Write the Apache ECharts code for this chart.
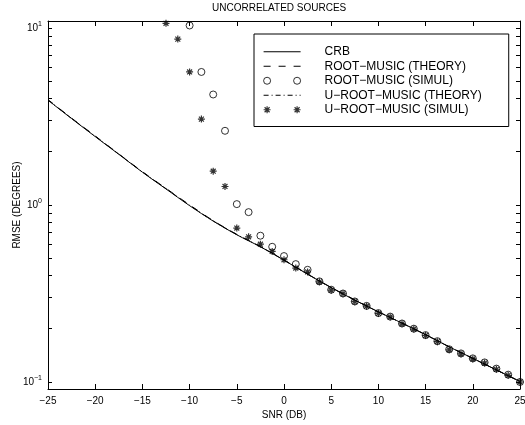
<!DOCTYPE html>
<html>
<head>
<meta charset="utf-8">
<script src="https://cdn.jsdelivr.net/npm/echarts@6/dist/echarts.min.js"></script>
<style>html,body{margin:0;padding:0;background:#fff}#c{width:525px;height:425px}</style>
</head>
<body>
<div id="c"></div>
<script>
// ---- data ----
const titleText = 'UNCORRELATED SOURCES';
const xName = 'SNR (DB)';
const yName = 'RMSE (DEGREES)';
const seriesNames = ['CRB', 'ROOT\u2212MUSIC (THEORY)', 'ROOT\u2212MUSIC (SIMUL)', 'U\u2212ROOT\u2212MUSIC (THEORY)', 'U\u2212ROOT\u2212MUSIC (SIMUL)'];

const snrLine = [-25, -22.5, -20, -17.5, -15, -12.5, -10, -7.5, -5, -2.5, 0, 2.5, 5, 7.5, 10, 12.5, 15, 17.5, 20, 22.5, 25];
const crb        = [3.90, 3.07, 2.43, 1.93, 1.53, 1.23, 0.99, 0.81, 0.678, 0.580, 0.487, 0.406, 0.341, 0.290, 0.249, 0.215, 0.185, 0.158, 0.136, 0.117, 0.1007];
const rootTheory = [3.93, 3.09, 2.45, 1.94, 1.54, 1.24, 1.00, 0.815, 0.682, 0.583, 0.489, 0.407, 0.342, 0.291, 0.249, 0.215, 0.185, 0.158, 0.136, 0.117, 0.1007];
const uRootTheory= [3.91, 3.08, 2.44, 1.935, 1.535, 1.235, 0.995, 0.812, 0.680, 0.581, 0.488, 0.406, 0.341, 0.290, 0.249, 0.215, 0.185, 0.158, 0.136, 0.117, 0.1007];

const snrRootSim = [-10, -8.75, -7.5, -6.25, -5, -3.75, -2.5, -1.25, 0, 1.25, 2.5, 3.75, 5, 6.25, 7.5, 8.75, 10, 11.25, 12.5, 13.75, 15, 16.25, 17.5, 18.75, 20, 21.25, 22.5, 23.75, 25];
const rootSim    = [10.3, 5.63, 4.2, 2.62, 1.01, 0.91, 0.67, 0.58, 0.514, 0.463, 0.43, 0.37, 0.332, 0.316, 0.285, 0.269, 0.245, 0.234, 0.214, 0.200, 0.184, 0.170, 0.153, 0.145, 0.136, 0.129, 0.119, 0.110, 0.100];

const snrURootSim = [-12.5, -11.25, -10, -8.75, -7.5, -6.25, -5, -3.75, -2.5, -1.25, 0, 1.25, 2.5, 3.75, 5, 6.25, 7.5, 8.75, 10, 11.25, 12.5, 13.75, 15, 16.25, 17.5, 18.75, 20, 21.25, 22.5, 23.75, 25];
const uRootSim    = [10.6, 8.63, 5.63, 3.05, 1.55, 1.27, 0.74, 0.66, 0.60, 0.546, 0.49, 0.44, 0.418, 0.368, 0.330, 0.315, 0.284, 0.268, 0.244, 0.233, 0.213, 0.199, 0.183, 0.169, 0.152, 0.144, 0.135, 0.128, 0.118, 0.109, 0.100];

const xTicks = [-25, -20, -15, -10, -5, 0, 5, 10, 15, 20, 25];
const yLabelTicks = [0.1, 1, 10];
const yMinorTicks = [0.1, 0.2, 0.3, 0.4, 0.5, 0.6, 0.7, 0.8, 0.9, 1, 2, 3, 4, 5, 6, 7, 8, 9, 10];

// ---- chart ----
const FONT = 'Liberation Sans, Arial, Helvetica, sans-serif';
const pairs = (xs, ys) => xs.map((x, i) => [x, ys[i]]);
const starPath = 'path://M4,0L4,8M0,4L8,4M1.2,1.2L6.8,6.8M1.2,6.8L6.8,1.2';
const starPairIcon = 'path://M3.5,0L3.5,7M0,3.5L7,3.5M1,1L6,6M1,6L6,1M33.5,0L33.5,7M30,3.5L37,3.5M31,1L36,6M31,6L36,1';
const circlePairIcon = 'path://M0,3.5A3.5,3.5,0,1,0,7,3.5A3.5,3.5,0,1,0,0,3.5ZM30,3.5A3.5,3.5,0,1,0,37,3.5A3.5,3.5,0,1,0,30,3.5Z';
const minus = v => (v < 0 ? '\u2212' + Math.abs(v) : String(v));
const supFmt = v => {
  const e = Math.round(Math.log10(v));
  return '{b|10}{s|' + minus(e) + '}';
};

const yAxisBase = {
  type: 'log', logBase: 10, min: 0.0913, max: 10.92,
  axisLine: { show: true, onZero: false, lineStyle: { color: '#000', width: 1 } },
  axisTick: { show: true, inside: true, length: 4, customValues: yMinorTicks, lineStyle: { color: '#000', width: 1 } },
  splitLine: { show: false }, minorTick: { show: false }
};
const xAxisBase = {
  type: 'value', min: -25, max: 25, interval: 5,
  axisLine: { show: true, onZero: false, lineStyle: { color: '#000', width: 1 } },
  axisTick: { show: true, inside: true, length: 5, customValues: xTicks, lineStyle: { color: '#000', width: 1 } },
  splitLine: { show: false }
};

const chart = echarts.init(document.getElementById('c'), null, { renderer: 'canvas' });
chart.setOption({
  animation: false,
  backgroundColor: '#fff',
  title: {
    text: titleText, left: 212, top: 3, padding: 0,
    textStyle: { fontFamily: FONT, fontSize: 10, fontWeight: 'normal', color: '#000' }
  },
  grid: { left: 48, right: 5, top: 21, bottom: 36, containLabel: false, outerBoundsMode: 'none' },
  xAxis: [
    Object.assign({}, xAxisBase, {
      position: 'bottom',
      axisLabel: { customValues: xTicks, formatter: minus, fontFamily: FONT, fontSize: 10, color: '#000', margin: 7 },
      name: xName, nameLocation: 'middle', nameGap: 21, nameMoveOverlap: false,
      nameTextStyle: { fontFamily: FONT, fontSize: 10, color: '#000' }
    }),
    Object.assign({}, xAxisBase, { position: 'top', axisLabel: { show: false } })
  ],
  yAxis: [
    Object.assign({}, yAxisBase, {
      position: 'left',
      axisLabel: {
        customValues: yLabelTicks, formatter: supFmt, margin: 6, color: '#000',
        rich: {
          b: { fontFamily: FONT, fontSize: 10, color: '#000' },
          s: { fontFamily: FONT, fontSize: 7, color: '#000', padding: [0, 0, 7, 0] }
        }
      },
      name: yName, nameLocation: 'middle', nameGap: 26, nameMoveOverlap: false,
      nameTextStyle: { fontFamily: FONT, fontSize: 10, color: '#000' }
    }),
    Object.assign({}, yAxisBase, { position: 'right', axisLabel: { show: false } })
  ],
  legend: {
    orient: 'vertical', left: 254, top: 34,
    backgroundColor: '#fff', borderColor: '#000', borderWidth: 1, borderRadius: 0,
    padding: [11, 27, 10, 9],
    itemWidth: 37, itemHeight: 7, itemGap: 1,
    selectedMode: false,
    lineStyle: { width: 1 },
    textStyle: { fontFamily: FONT, fontSize: 12, color: '#000', lineHeight: 13.5, padding: [0, 0, 0, 19] },
    data: [
      { name: seriesNames[0], itemStyle: { opacity: 0 } },
      { name: seriesNames[1], itemStyle: { opacity: 0 } },
      { name: seriesNames[2], icon: circlePairIcon, itemStyle: { color: 'rgba(0,0,0,0)', borderColor: '#000', borderWidth: 1 } },
      { name: seriesNames[3], itemStyle: { opacity: 0 } },
      { name: seriesNames[4], icon: starPairIcon, itemStyle: { color: 'rgba(0,0,0,0)', borderColor: '#000', borderWidth: 1.2 } }
    ]
  },
  series: [
    { name: seriesNames[0], type: 'line', data: pairs(snrLine, crb), symbol: 'none', smooth: 0.3,
      lineStyle: { color: '#000', width: 1, type: 'solid' }, itemStyle: { color: '#000' } },
    { name: seriesNames[1], type: 'line', data: pairs(snrLine, rootTheory), symbol: 'none', smooth: 0.3,
      lineStyle: { color: '#000', width: 1, type: [7, 8] }, itemStyle: { color: '#000' } },
    { name: seriesNames[3], type: 'line', data: pairs(snrLine, uRootTheory), symbol: 'none', smooth: 0.3,
      lineStyle: { color: '#000', width: 1, type: [5, 3, 1, 3] }, itemStyle: { color: '#000' } },
    { name: seriesNames[2], type: 'scatter', data: pairs(snrRootSim, rootSim), symbol: 'circle', symbolSize: 7,
      itemStyle: { color: 'rgba(0,0,0,0)', borderColor: '#000', borderWidth: 1 } },
    { name: seriesNames[4], type: 'scatter', data: pairs(snrURootSim, uRootSim), symbol: starPath, symbolSize: 7,
      itemStyle: { color: 'rgba(0,0,0,0)', borderColor: '#000', borderWidth: 1.2 } }
  ]
});
</script>
</body>
</html>
